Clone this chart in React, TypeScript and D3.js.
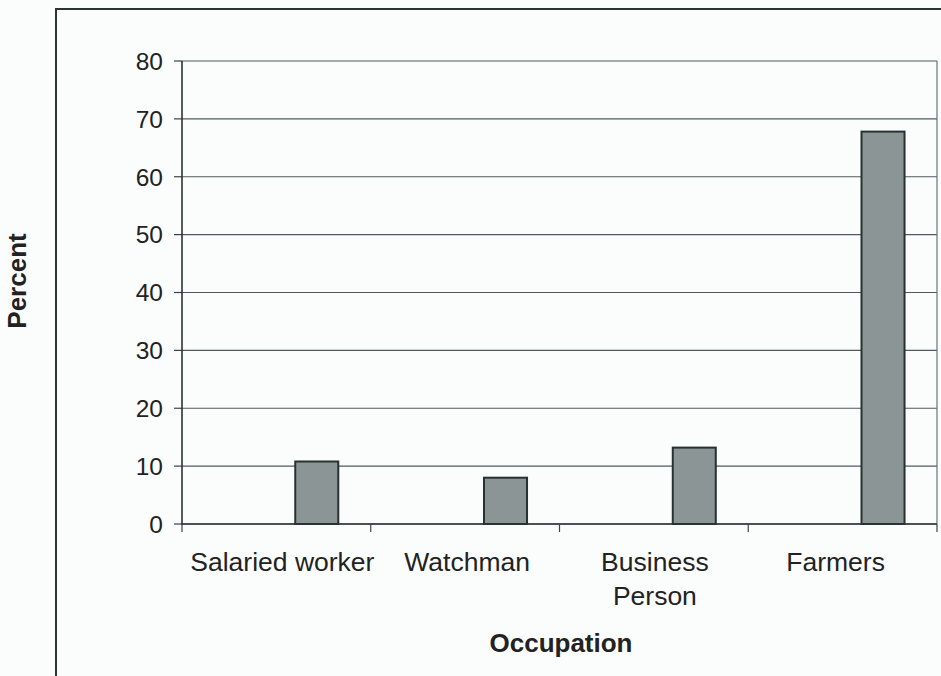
import React from 'react';
import * as d3 from 'd3';

const categories = ['Salaried worker', 'Watchman', 'Business Person', 'Farmers'];
const categoryLines = [['Salaried worker'], ['Watchman'], ['Business', 'Person'], ['Farmers']];
const percents = [10.8, 8.0, 13.2, 67.8];
const yTicks = [0, 10, 20, 30, 40, 50, 60, 70, 80];

const W = 941;
const H = 676;
const margin = { top: 61, right: 4, bottom: 152, left: 182 };
const font = 'Arial, "Liberation Sans", Helvetica, sans-serif';
// small label nudges seen in the scan
const labelShift = [6, 2, 1, -7];

const App = () => {
  const innerW = W - margin.left - margin.right;
  const innerH = H - margin.top - margin.bottom;

  const x = d3.scaleBand().domain(categories).range([0, innerW]).padding(0);
  const y = d3.scaleLinear().domain([0, 80]).range([innerH, 0]);

  // bars sit right of centre in each category (empty first series in the original)
  const barOffset = x.bandwidth() * 0.6;
  const barWidth = x.bandwidth() * 0.228;

  return (
    <svg
      width={W}
      height={H}
      style={{ position: 'fixed', left: 0, top: 0, display: 'block', background: '#fbfdfd' }}
    >
      {/* outer chart frame, cut off by the scan */}
      <rect x={56} y={9} width={1000} height={1000} fill="none" stroke="#2b3333" strokeWidth={2} />

      <g transform={`translate(${margin.left},${margin.top})`}>
        {yTicks.map((t) => (
          <g key={t}>
            <line x1={0} x2={innerW} y1={y(t)} y2={y(t)} stroke="#4f5a5a" strokeWidth={1.2} />
            <line x1={-8} x2={0} y1={y(t)} y2={y(t)} stroke="#3a4444" strokeWidth={1.2} />
            <text
              x={-19}
              y={y(t)}
              dy="0.36em"
              textAnchor="end"
              fontFamily={font}
              fontSize={24.5}
              fill="#222"
            >
              {t}
            </text>
          </g>
        ))}
        <line x1={innerW} x2={innerW} y1={0} y2={innerH} stroke="#6a7474" strokeWidth={1.2} />

        {categories.map((c, i) => (
          <rect
            key={c}
            x={(x(c) as number) + barOffset}
            y={y(percents[i])}
            width={barWidth}
            height={innerH - y(percents[i])}
            fill="#8c9595"
            stroke="#283030"
            strokeWidth={2}
          />
        ))}

        <line x1={0} x2={0} y1={0} y2={innerH + 1} stroke="#2b3333" strokeWidth={1.6} />
        <line x1={0} x2={innerW} y1={innerH} y2={innerH} stroke="#2b3333" strokeWidth={1.6} />
        {categories.map((c) => (
          <line
            key={c}
            x1={(x(c) as number) + x.bandwidth()}
            x2={(x(c) as number) + x.bandwidth()}
            y1={innerH}
            y2={innerH + 8}
            stroke="#3a4444"
            strokeWidth={1.2}
          />
        ))}
        <line x1={0} x2={0} y1={innerH} y2={innerH + 8} stroke="#3a4444" strokeWidth={1.2} />

        {categories.map((c, i) => {
          const cx = (x(c) as number) + x.bandwidth() / 2 + labelShift[i];
          return (
            <text
              key={c}
              x={cx}
              y={innerH + 47}
              textAnchor="middle"
              fontFamily={font}
              fontSize={26.5}
              fill="#222"
            >
              {categoryLines[i].map((line, j) => (
                <tspan key={j} x={cx} dy={j === 0 ? 0 : 34}>
                  {line}
                </tspan>
              ))}
            </text>
          );
        })}
      </g>

      <text
        x={561}
        y={652}
        textAnchor="middle"
        fontFamily={font}
        fontSize={26}
        fontWeight="bold"
        fill="#222"
      >
        Occupation
      </text>
      <text
        transform="translate(26,281) rotate(-90)"
        textAnchor="middle"
        fontFamily={font}
        fontSize={26}
        fontWeight="bold"
        fill="#222"
      >
        Percent
      </text>
    </svg>
  );
};

export default App;
